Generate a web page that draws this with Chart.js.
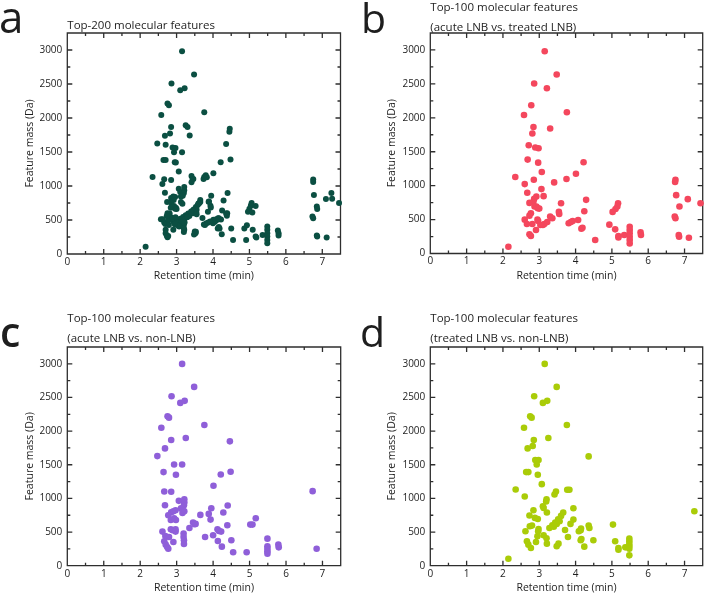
<!DOCTYPE html>
<html><head><meta charset="utf-8">
<script src="https://cdn.jsdelivr.net/npm/chart.js@4/dist/chart.umd.min.js"></script>
<style>
html,body{margin:0;padding:0;background:#fff;}
#wrap{position:relative;width:706px;height:596px;overflow:hidden;background:#fff;}
.panel{position:absolute;width:353px;height:298px;}
</style></head><body>
<div id="wrap">
<div class="panel" style="left:0;top:0"><canvas id="ca" width="353" height="298"></canvas></div>
<div class="panel" style="left:353px;top:0"><canvas id="cb" width="353" height="298"></canvas></div>
<div class="panel" style="left:0;top:298px"><canvas id="cc" width="353" height="298"></canvas></div>
<div class="panel" style="left:353px;top:298px"><canvas id="cd" width="353" height="298"></canvas></div>
</div>
<script>
// ---------- tick labels ----------
const xTickValues = [0,1,2,3,4,5,6,7];
const yTickValues = [0,500,1000,1500,2000,2500,3000];

// ---------- panel a: Top-200 ----------
const aRT = [3.15,3.48,2.86,3.10,3.22,2.75,2.79,2.58,3.76,2.85,3.25,3.30,2.82,3.36,2.68,4.46,4.45,2.47,4.36,2.70,2.89,2.97,2.93,3.15,2.64,2.70,2.95,2.98,4.48,4.21,3.06,4.01,3.41,3.44,3.41,3.76,3.80,3.74,2.34,2.66,2.85,2.61,3.06,3.10,3.21,3.21,3.20,3.17,2.68,4.40,3.95,2.85,2.91,2.96,2.92,2.74,2.85,3.12,3.16,3.65,3.65,3.89,3.93,4.29,4.25,5.06,5.04,5.00,4.96,2.75,2.81,2.84,
3.10,3.18,3.25,3.32,3.40,3.47,3.53,3.58,3.62,3.35,3.45,3.50,3.28,3.55,
2.57,2.66,2.77,2.91,2.96,3.01,3.14,3.21,3.20,3.21,2.70,2.70,2.73,2.75,2.91,3.07,3.50,3.52,3.75,3.82,4.01,4.05,4.12,4.16,4.13,4.18,4.24,4.50,4.55,4.86,4.93,4.91,5.09,5.17,5.19,5.36,5.49,5.49,5.49,5.49,5.49,5.49,5.78,5.80,5.80,6.75,6.75,6.77,6.73,6.75,6.85,6.86,6.85,6.86,7.10,7.12,7.25,7.27,7.46,2.15,
2.93,2.98,2.84,3.88,3.45,4.39,4.22,4.00,3.78,2.69,2.79,2.89,3.19,3.20,3.20,5.08,5.17,2.97,
3.60,3.54,3.55,2.73,3.22,3.30,3.87,3.92,4.07,3.03,3.12,2.87,2.96,3.00,
3.83,3.46,3.86,3.71,4.09,4.38,2.62,2.95,4.16,3.48,3.53,2.77,3.94,4.14,4.36];
const aMass = [2980,2640,2507,2409,2438,2212,2187,2044,2084,1867,1892,1867,1773,1744,1739,1842,1798,1626,1616,1606,1566,1557,1498,1498,1384,1384,1350,1345,1389,1350,1212,1187,1148,1103,1054,1133,1158,1103,1133,1098,1089,1030,961,911,985,936,897,857,902,897,857,823,847,837,793,764,759,764,739,793,764,773,709,788,640,749,714,665,621,601,596,542,
520,545,570,595,625,655,690,720,745,560,600,640,540,650,
512,463,493,478,502,463,463,502,429,355,355,305,271,246,355,404,330,305,434,453,502,473,502,527,374,374,291,374,207,374,424,207,355,256,241,280,404,355,305,256,207,158,345,305,271,1094,1059,867,552,527,700,660,271,256,808,241,897,813,749,108,
705,680,680,770,641,601,507,452,427,442,427,527,477,378,323,611,705,541,
741,613,583,558,465,544,465,479,494,420,845,692,667,662,
1128,1103,621,531,512,561,512,437,397,288,328,263,685,527,596];

// ---------- panel b: acute LNB vs. treated LNB ----------
const bRT = [3.15,3.48,2.86,3.21,2.78,2.58,3.76,2.84,2.81,3.30,2.71,2.89,2.98,2.97,2.68,4.22,3.07,4.01,2.34,2.85,3.75,3.41,2.60,3.06,2.67,3.12,2.92,2.86,2.84,2.73,3.60,4.29,7.09,7.44,2.87,2.92,2.96,3.00,5.17,5.15,5.10,5.02,6.77,6.86,6.75,6.74,4.24,3.54,3.55,2.77,2.73,2.60,2.95,2.97,2.66,2.81,3.14,3.10,3.22,3.30,3.36,3.81,3.87,3.92,4.07,4.16,4.19,3.03,2.91,2.73,2.77,4.54,4.93,5.09,5.18,5.18,5.34,5.49,5.49,5.49,5.49,5.49,5.49,5.79,5.80,6.73,6.75,6.84,6.85,7.12,2.15];
const bMass = [2980,2639,2506,2436,2184,2041,2081,1863,1769,1843,1596,1562,1552,1339,1384,1344,1201,1176,1127,1087,1097,1048,1023,949,895,845,840,806,766,746,741,791,801,741,692,692,667,662,741,692,657,613,860,692,1087,1053,623,613,583,593,558,499,499,479,435,435,435,420,465,544,519,445,465,479,494,366,380,420,346,282,257,198,425,356,257,237,272,395,346,297,247,198,148,311,272,544,519,272,247,232,99];

// ---------- panel c: acute LNB vs. non-LNB ----------
const cRT = [3.15,3.48,2.86,3.10,3.22,2.75,2.79,2.58,3.76,2.85,3.25,2.68,4.46,2.47,2.93,3.15,2.64,2.98,4.48,4.21,4.01,2.66,2.85,6.73,3.06,3.21,3.21,3.20,2.68,4.40,3.95,3.12,3.17,3.16,2.85,2.91,2.97,3.21,4.28,2.77,3.65,3.88,3.93,2.84,2.93,2.98,3.45,3.49,3.52,3.35,5.02,5.08,5.17,4.39,2.61,2.84,2.89,2.97,2.97,3.19,3.19,3.20,3.20,2.69,2.79,4.12,4.16,4.22,3.78,4.00,4.13,4.50,2.91,2.66,2.70,2.74,2.77,4.24,4.55,4.92,5.49,5.49,5.49,5.49,5.49,5.79,5.80,6.84];
const cMass = [2999,2657,2518,2419,2450,2220,2200,2051,2091,1868,1897,1743,1848,1629,1505,1505,1391,1351,1396,1356,1187,1103,1098,1108,964,988,939,899,899,894,854,854,825,785,795,810,825,810,790,750,755,770,685,680,705,680,641,616,621,561,611,611,705,601,507,541,527,541,507,477,427,378,323,442,427,541,517,507,427,452,368,378,353,363,313,278,253,283,199,199,402,288,253,214,179,313,273,253];

// ---------- panel d: treated LNB vs. non-LNB ----------
const dRT = [3.15,3.48,2.86,3.10,3.22,2.75,2.79,2.58,3.76,2.85,3.25,2.82,2.68,4.36,2.89,2.98,2.93,2.64,2.70,2.96,3.07,2.35,3.77,3.83,3.46,3.42,2.60,3.20,3.19,3.10,3.12,2.84,3.21,3.94,7.27,2.73,3.28,3.36,3.44,3.52,3.60,3.66,3.40,3.48,3.56,2.88,2.96,3.94,3.86,3.71,4.09,4.14,4.15,4.36,4.38,5.03,2.74,2.80,2.62,2.98,2.97,2.95,3.12,3.20,3.21,3.79,4.14,4.16,4.49,4.24,2.91,2.66,2.70,2.77,3.48,3.53,5.09,5.18,5.18,5.37,5.48,5.48,5.48,5.48,5.48,5.48,2.15];
const dMass = [2999,2657,2518,2419,2450,2220,2200,2051,2091,1868,1897,1778,1743,1624,1570,1570,1505,1391,1391,1351,1212,1133,1128,1128,1103,1058,1028,988,954,884,859,825,790,854,810,745,561,600,640,690,740,790,580,620,660,710,695,685,621,531,512,527,551,596,561,611,586,596,512,546,512,437,452,407,328,427,378,397,378,283,353,363,313,263,288,328,363,263,238,273,402,363,323,288,253,154,104];

const FONT = '"Open Sans", "DejaVu Sans", sans-serif';
const TEXT = '#1e1e1e';
const FRAME = '#2e2e2e';

function drawFrame(chart) {
  const ctx = chart.ctx, ca = chart.chartArea, x = chart.scales.x, y = chart.scales.y;
  const L = ca.left, R = ca.right, T = ca.top, B = ca.bottom;
  ctx.save();
  ctx.setLineDash([]);
  ctx.globalAlpha = 1;
  ctx.strokeStyle = FRAME;
  ctx.lineWidth = 1.3;
  ctx.beginPath();
  ctx.moveTo(L, T); ctx.lineTo(R, T); ctx.lineTo(R, B); ctx.lineTo(L, B); ctx.closePath();
  for (let k = 1; k < 15; k++) {
    const px = x.getPixelForValue(k * 0.5);
    const len = (k % 2 === 0) ? 5 : 3;
    ctx.moveTo(px, B); ctx.lineTo(px, B - len);
    ctx.moveTo(px, T); ctx.lineTo(px, T + len);
  }
  for (let k = 1; k < 13; k++) {
    const py = y.getPixelForValue(k * 250);
    const len = (k % 2 === 0) ? 5 : 3;
    ctx.moveTo(L, py); ctx.lineTo(L + len, py);
    ctx.moveTo(R, py); ctx.lineTo(R - len, py);
  }
  ctx.stroke();
  ctx.restore();
}

const panelPlugin = {
  id: 'panelDeco',
  beforeDatasetsDraw(chart) { drawFrame(chart); },
  afterDraw(chart, args, o) {
    const ctx = chart.ctx, ca = chart.chartArea;
    ctx.save();
    ctx.fillStyle = TEXT;
    ctx.textAlign = 'left';
    ctx.textBaseline = 'alphabetic';
    ctx.font = '11.5px ' + FONT;
    o.title.forEach((t, i) => ctx.fillText(t, ca.left, o.titleY[i]));
    ctx.font = (o.letterWeight || 'normal') + ' ' + o.letterSize + 'px ' + FONT;
    ctx.fillText(o.letter, o.letterX, o.letterY);
    ctx.restore();
  }
};

function makeChart(id, rt, mass, color, cfg) {
  const pts = rt.map((v, i) => ({x: v, y: mass[i]}));
  return new Chart(document.getElementById(id), {
    type: 'scatter',
    data: {datasets: [{data: pts, backgroundColor: color, borderColor: color, borderWidth: 0, pointRadius: cfg.r, pointHoverRadius: cfg.r, clip: false}]},
    plugins: [panelPlugin],
    options: {
      responsive: false, animation: false, devicePixelRatio: 1,
      layout: {padding: {left: 0, right: cfg.padR, top: cfg.padT, bottom: 0}},
      plugins: {
        legend: {display: false}, tooltip: {enabled: false},
        panelDeco: {title: cfg.title, titleY: cfg.titleY, letter: cfg.letter, letterX: cfg.letterX, letterY: cfg.letterY, letterWeight: cfg.letterWeight, letterSize: cfg.letterSize}
      },
      scales: {
        x: {
          type: 'linear', min: 0, max: 7.5,
          afterBuildTicks: s => { s.ticks = xTickValues.map(v => ({value: v})); },
          afterFit: s => { s.height = cfg.xH; },
          grid: {display: false, drawTicks: false},
          border: {display: false},
          ticks: {padding: 2, color: TEXT, font: {family: FONT, size: 10}, maxRotation: 0, callback: v => String(v)},
          title: {display: true, text: 'Retention time (min)', color: TEXT, font: {family: FONT, size: 10.5}, padding: {top: 0, bottom: cfg.xTitlePad}}
        },
        y: {
          type: 'linear', min: 0, max: 3250,
          afterBuildTicks: s => { s.ticks = yTickValues.map(v => ({value: v})); },
          afterFit: s => { s.width = cfg.yW; },
          grid: {display: false, drawTicks: false},
          border: {display: false},
          ticks: {padding: 5, color: TEXT, font: {family: FONT, size: 10}, callback: v => String(v)},
          title: {display: true, text: 'Feature mass (Da)', color: TEXT, font: {family: FONT, size: 10.5}, padding: {top: cfg.yTitlePad, bottom: 0}}
        }
      }
    }
  });
}

makeChart('ca', aRT, aMass, '#0b4f42', {r: 3, padR: 12.5, padT: 33, xH: 44, yW: 67.3, xTitlePad: 15.7, yTitlePad: 23.7,
  title: ['Top-200 molecular features'], titleY: [29], letter: 'a', letterX: -1, letterY: 33, letterSize: 44});
makeChart('cb', bRT, bMass, '#f4475d', {r: 3.3, padR: 2.5, padT: 33, xH: 44.5, yW: 77.3, xTitlePad: 15.7, yTitlePad: 32.7,
  title: ['Top-100 molecular features', '(acute LNB vs. treated LNB)'], titleY: [11, 31], letter: 'b', letterX: 8, letterY: 33, letterSize: 41});
makeChart('cc', cRT, cMass, '#8f5fd9', {r: 3.3, padR: 12.3, padT: 49, xH: 30.3, yW: 67.3, xTitlePad: 1.7, yTitlePad: 23.7,
  title: ['Top-100 molecular features', '(acute LNB vs. non-LNB)'], titleY: [24, 44], letter: 'c', letterX: 0, letterY: 49, letterWeight: '600', letterSize: 41});
makeChart('cd', dRT, dMass, '#aacc08', {r: 3.3, padR: 2.5, padT: 49, xH: 30.3, yW: 77.3, xTitlePad: 1.7, yTitlePad: 32.7,
  title: ['Top-100 molecular features', '(treated LNB vs. non-LNB)'], titleY: [24, 44], letter: 'd', letterX: 7, letterY: 49, letterSize: 41});
</script>
</body></html>
